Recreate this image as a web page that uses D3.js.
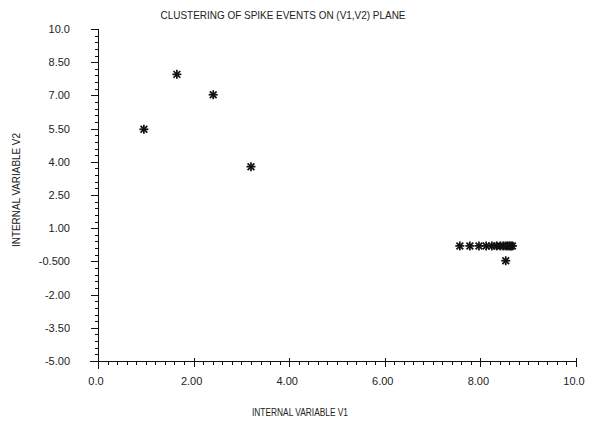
<!DOCTYPE html>
<html>
<head>
<meta charset="utf-8">
<title>Clustering of spike events</title>
<script src="https://cdn.jsdelivr.net/npm/d3@7"></script>
<style>
body{margin:0;background:#fff}
svg{display:block}
text{font-family:"Liberation Sans",sans-serif;fill:#222}
</style>
</head>
<body>
<script>
// values
const v1 = [0.96, 1.65, 2.41, 3.20,
  7.57, 7.78, 7.97, 8.12, 8.24, 8.34, 8.42, 8.48, 8.53, 8.57, 8.61, 8.64, 8.67, 8.53]
const v2 = [5.47, 7.95, 7.03, 3.78,
  0.2, 0.2, 0.2, 0.2, 0.2, 0.2, 0.2, 0.2, 0.2, 0.2, 0.2, 0.2, 0.2, -0.47]
const xTicks = [0, 2, 4, 6, 8, 10]
const xTickLabels = ['0.0', '2.00', '4.00', '6.00', '8.00', '10.0']
const yTicks = [10, 8.5, 7, 5.5, 4, 2.5, 1, -0.5, -2, -3.5, -5]
const yTickLabels = ['10.0', '8.50', '7.00', '5.50', '4.00', '2.50', '1.00', '-0.500', '-2.00', '-3.50', '-5.00']

const W = 590, H = 422
const svg = d3.select('body').append('svg').attr('width', W).attr('height', H)

const x = d3.scaleLinear().domain([0, 10]).range([98, 576])
const y = d3.scaleLinear().domain([-5, 10]).range([361, 29])

const ink = '#111'

// title
svg.append('text')
  .attr('x', 283).attr('y', 19)
  .attr('text-anchor', 'middle')
  .attr('textLength', 245).attr('lengthAdjust', 'spacingAndGlyphs')
  .style('font-size', '10.5px')
  .text('CLUSTERING OF SPIKE EVENTS ON (V1,V2) PLANE')

// axis lines
const ga = svg.append('g').attr('stroke', ink).attr('stroke-width', 1).attr('fill', 'none')
ga.append('line').attr('x1', x(0) + 0.5).attr('x2', x(0) + 0.5)
  .attr('y1', y(10)).attr('y2', y(-5) + 8)
ga.append('line').attr('x1', x(0) - 8).attr('x2', x(10))
  .attr('y1', y(-5) + 0.5).attr('y2', y(-5) + 0.5)

// y ticks: minor every 0.3, majors every 1.5
const yMinor = d3.range(0, 51).map(i => -5 + i * 0.3)
ga.selectAll('.ym').data(yMinor).join('line')
  .attr('x1', x(0) - 3).attr('x2', x(0))
  .attr('y1', d => Math.round(y(d)) + 0.5).attr('y2', d => Math.round(y(d)) + 0.5)
ga.selectAll('.yM').data(yTicks).join('line')
  .attr('x1', x(0) - 7).attr('x2', x(0))
  .attr('y1', d => Math.round(y(d)) + 0.5).attr('y2', d => Math.round(y(d)) + 0.5)

// x ticks: minor every 0.2 pointing down, majors crossing
const xMinor = d3.range(0, 51).map(i => i * 0.2)
ga.selectAll('.xm').data(xMinor).join('line')
  .attr('x1', d => Math.round(x(d)) + 0.5).attr('x2', d => Math.round(x(d)) + 0.5)
  .attr('y1', y(-5)).attr('y2', y(-5) + 4)
ga.selectAll('.xM').data(xTicks.slice(1)).join('line')
  .attr('x1', d => Math.round(x(d)) + 0.5).attr('x2', d => Math.round(x(d)) + 0.5)
  .attr('y1', y(-5) - 3).attr('y2', y(-5) + 6)

// tick labels
svg.selectAll('.yl').data(yTicks).join('text')
  .attr('x', 70).attr('y', d => y(d) + 4)
  .attr('text-anchor', 'end')
  .style('font-size', '11px')
  .text((d, i) => yTickLabels[i])
svg.selectAll('.xl').data(xTicks).join('text')
  .attr('x', d => x(d) - 2).attr('y', 385)
  .attr('text-anchor', 'middle')
  .style('font-size', '11px')
  .text((d, i) => xTickLabels[i])

// axis titles
svg.append('text')
  .attr('x', 300).attr('y', 416)
  .attr('text-anchor', 'middle')
  .attr('textLength', 96).attr('lengthAdjust', 'spacingAndGlyphs')
  .style('font-size', '10px')
  .text('INTERNAL VARIABLE V1')
svg.append('text')
  .attr('transform', 'translate(20,190) rotate(-90)')
  .attr('text-anchor', 'middle')
  .attr('textLength', 114).attr('lengthAdjust', 'spacingAndGlyphs')
  .style('font-size', '10px')
  .text('INTERNAL VARIABLE V2')

// asterisk markers
const pts = v1.map((d, i) => [d, v2[i]])
const r = 4.5
const star = svg.append('g').attr('stroke', ink).attr('stroke-width', 1.7)
  .selectAll('g').data(pts).join('g')
  .attr('transform', d => `translate(${x(d[0])},${y(d[1])})`)
star.append('line').attr('x1', -r).attr('x2', r).attr('y1', 0).attr('y2', 0)
star.append('line').attr('x1', 0).attr('x2', 0).attr('y1', -r).attr('y2', r)
star.append('line').attr('x1', -r * 0.75).attr('x2', r * 0.75).attr('y1', -r * 0.75).attr('y2', r * 0.75)
star.append('line').attr('x1', -r * 0.75).attr('x2', r * 0.75).attr('y1', r * 0.75).attr('y2', -r * 0.75)
</script>
</body>
</html>
